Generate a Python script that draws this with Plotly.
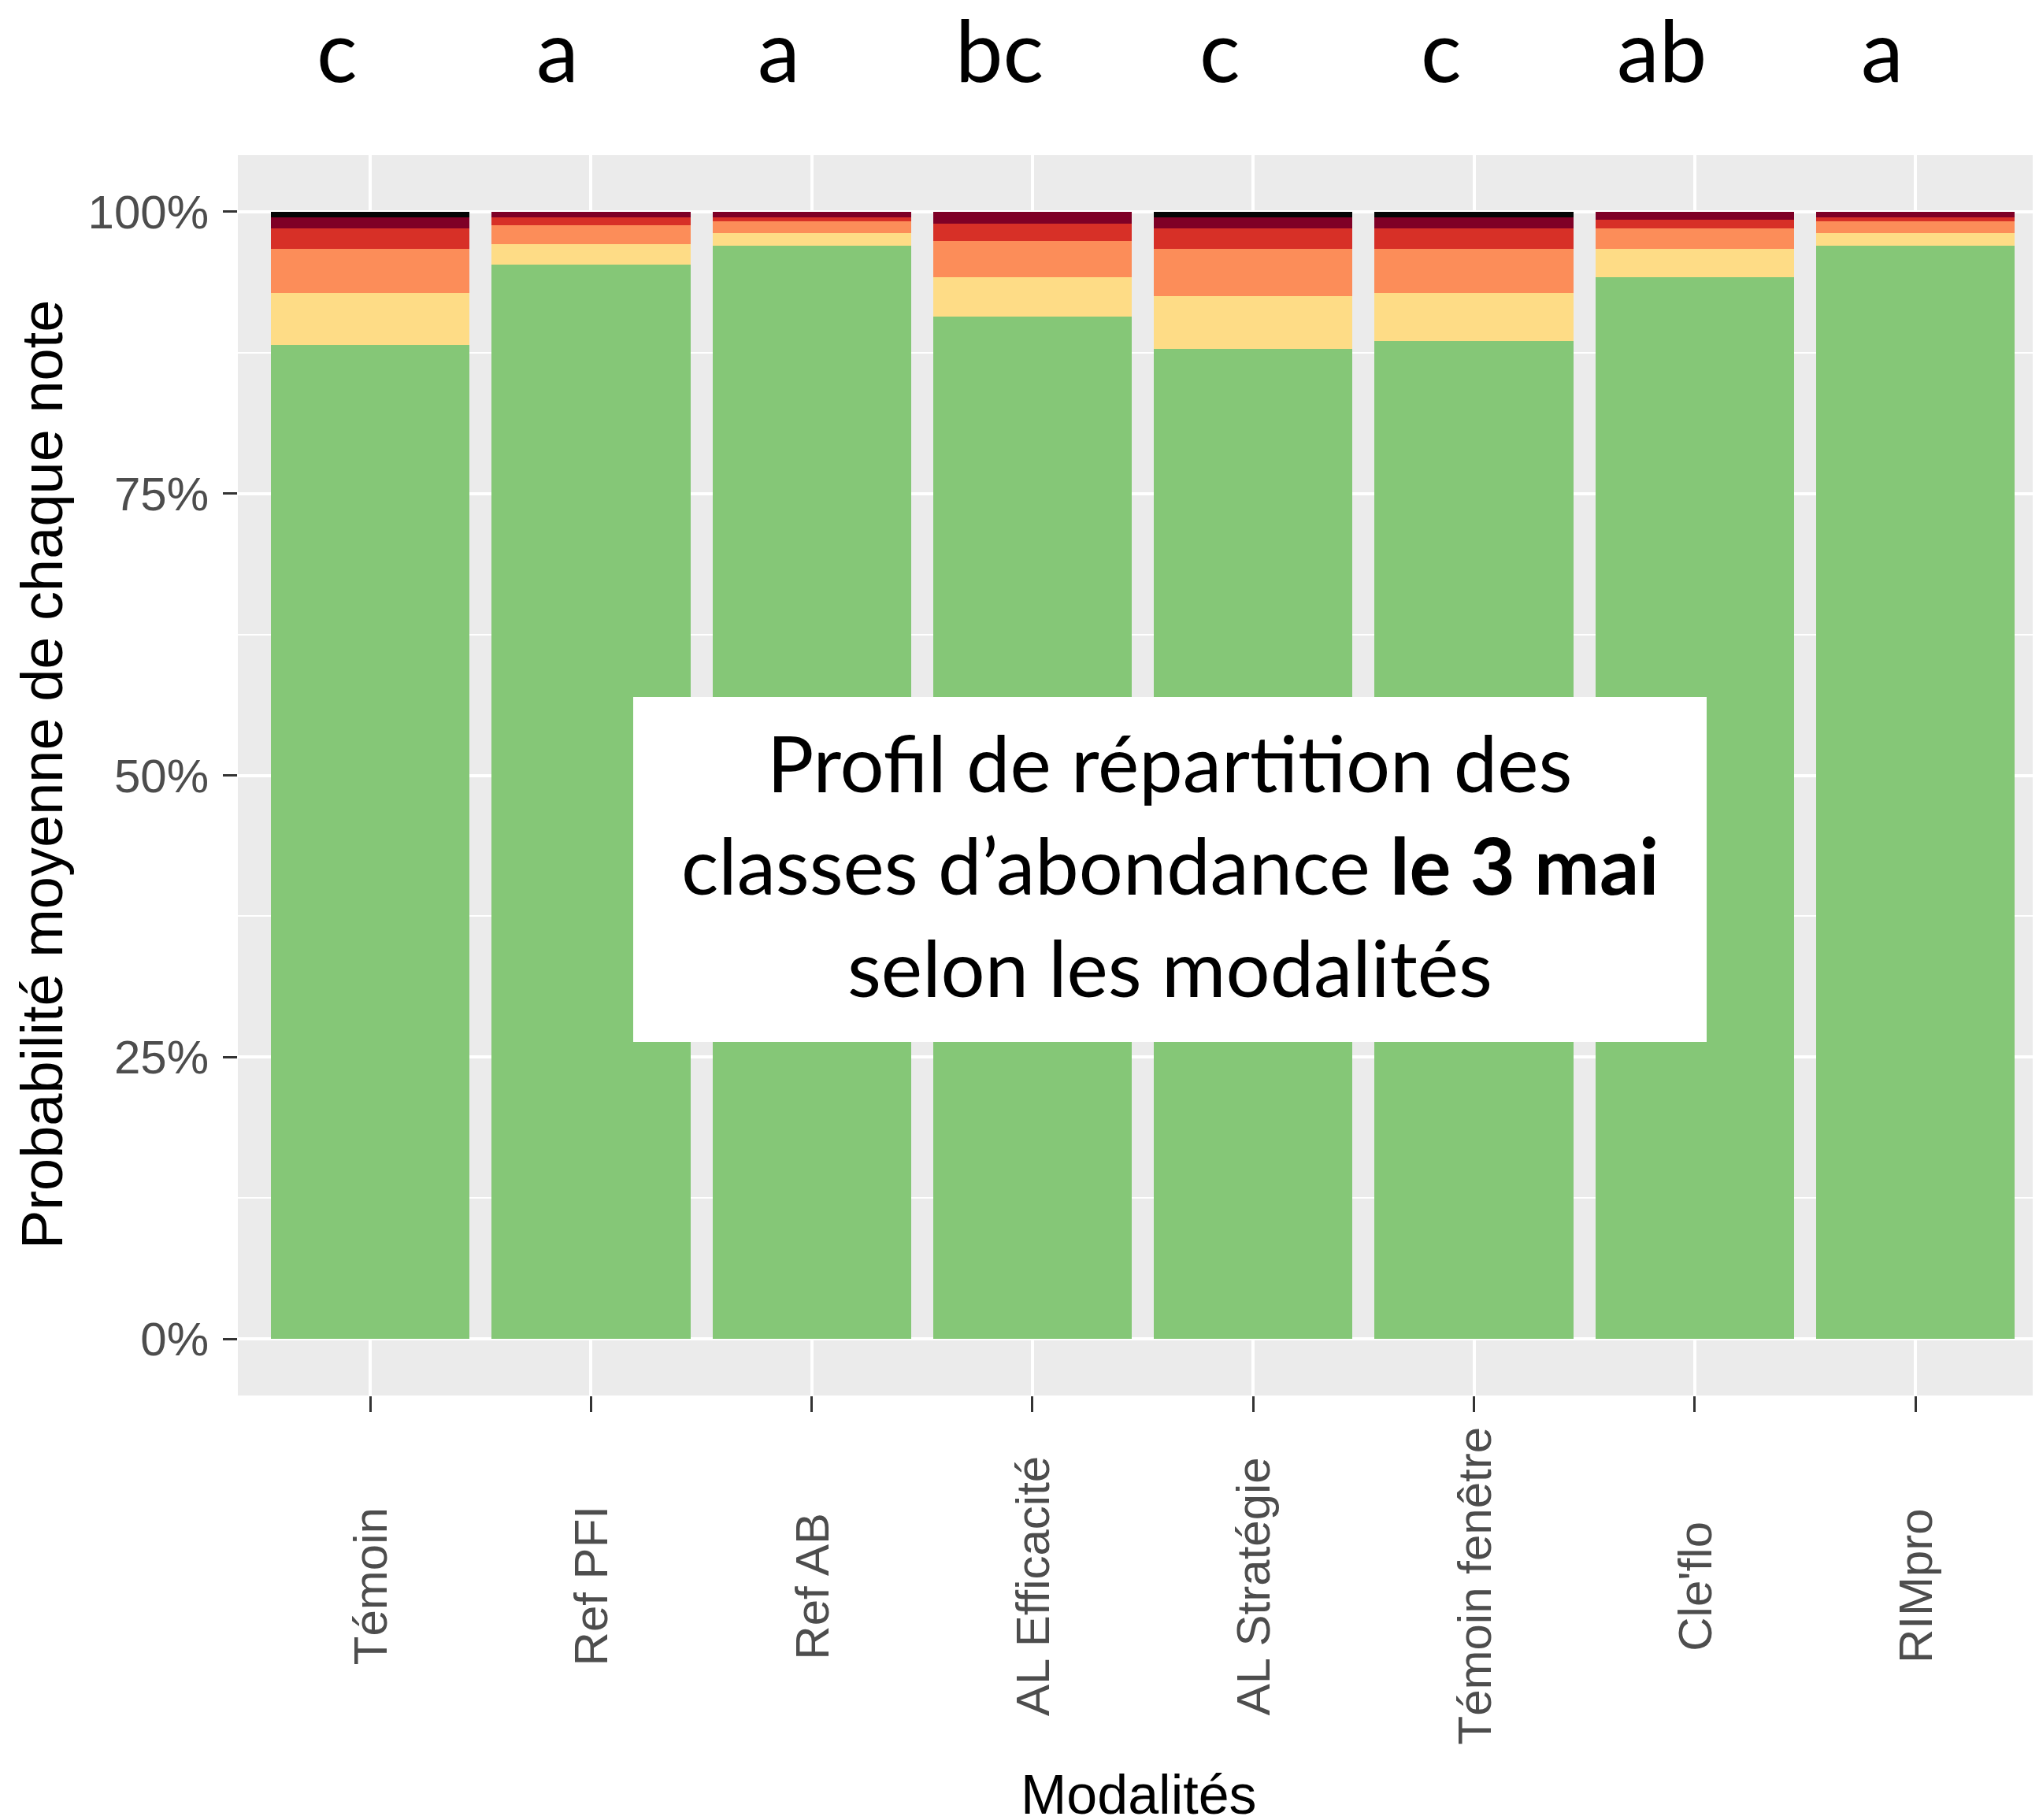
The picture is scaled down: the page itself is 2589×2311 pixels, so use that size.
import plotly.graph_objects as go

modalites = ["Témoin", "Ref PFI", "Ref AB", "AL Efficacité", "AL Stratégie",
             "Témoin fenêtre", "Cle'flo", "RIMpro"]
lettres = ["c", "a", "a", "bc", "c", "c", "ab", "a"]

# probabilité moyenne (%) de chaque note, de la note 0 (vert) à la note 5 (noir)
note_0 = [88.2, 95.3, 97.0, 90.7, 87.8, 88.5, 94.2, 97.0]
note_1 = [4.6, 1.8, 1.1, 3.5, 4.7, 4.3, 2.5, 1.1]
note_2 = [3.9, 1.7, 1.0, 3.2, 4.2, 3.9, 1.8, 1.0]
note_3 = [1.8, 0.7, 0.4, 1.5, 1.8, 1.8, 0.8, 0.4]
note_4 = [1.0, 0.5, 0.5, 1.1, 1.0, 1.0, 0.7, 0.5]
note_5 = [0.5, 0.0, 0.0, 0.0, 0.5, 0.5, 0.0, 0.0]

notes = [note_0, note_1, note_2, note_3, note_4, note_5]
couleurs = ["#85C777", "#FEDC86", "#FC8D59", "#D73027", "#7F0026", "#050505"]

# la page html a une marge de 8 px autour du graphique
OFF = 8
W, H = 2589 - OFF, 2311 - OFF
L, R, T, B = 302 - OFF, 0, 197 - OFF, 539
ph = H - T - B
pw = W - L - R

def py(px):
    # pixel de la fenêtre (depuis le haut) -> coordonnée papier
    return (H - B - (px - OFF)) / ph

def pxx(px):
    return (px - OFF - L) / pw

fig = go.Figure()
for i, (vals, col) in enumerate(zip(notes, couleurs)):
    fig.add_trace(go.Bar(
        x=modalites, y=[v / 100 for v in vals], name=f"Note {i}",
        marker=dict(color=col, line=dict(width=0)),
    ))

axis_font = dict(family="Liberation Sans, Arial", size=60, color="#4D4D4D")

fig.update_layout(
    width=W, height=H,
    margin=dict(l=L, r=R, t=T, b=B),
    barmode="stack", bargap=0.1,
    showlegend=False,
    plot_bgcolor="#EBEBEB", paper_bgcolor="white",
    xaxis=dict(
        range=[-0.6, 7.56], showticklabels=False,
        ticks="outside", ticklen=20, tickwidth=3, tickcolor="#333333",
        showgrid=True, gridcolor="white", gridwidth=4, zeroline=False,
    ),
    yaxis=dict(
        range=[-0.05, 1.05], tickvals=[0, 0.25, 0.5, 0.75, 1], tickformat=".0%",
        ticks="outside", ticklen=18, tickwidth=3, tickcolor="#333333",
        tickfont=axis_font, ticklabelstandoff=6,
        showgrid=True, gridcolor="white", gridwidth=4, zeroline=False,
        minor=dict(tick0=0.125, dtick=0.25, showgrid=True, gridcolor="white", gridwidth=2),
    ),
)

# étiquettes des modalités, centrées
for m in modalites:
    fig.add_annotation(x=m, xref="x", y=py(2014), yref="paper", text=m,
                       textangle=-90, showarrow=False, font=axis_font,
                       xanchor="center", yanchor="middle")

# lettres de significativité
for m, l in zip(modalites, lettres):
    fig.add_annotation(x=m, xref="x", y=py(62), yref="paper", text=l,
                       showarrow=False, xshift=-42,
                       font=dict(family="Lato", size=108, color="black"),
                       xanchor="center", yanchor="middle")

# titres des axes
fig.add_annotation(x=pxx(53), xref="paper", y=py(984), yref="paper",
                   text="Probabilité moyenne de chaque note", textangle=-90,
                   showarrow=False, font=dict(family="Liberation Sans, Arial", size=74, color="black"),
                   xanchor="center", yanchor="middle")
fig.add_annotation(x=0.5, xref="paper", y=py(2279), yref="paper",
                   text="Modalités", showarrow=False,
                   font=dict(family="Liberation Sans, Arial", size=70, color="black"),
                   xanchor="center", yanchor="middle")

# encadré de titre
fig.add_shape(type="rect", xref="paper", yref="paper",
              x0=pxx(804), x1=pxx(2167), y0=py(1323), y1=py(885),
              fillcolor="white", line=dict(width=0), layer="above")
lignes = ["Profil de répartition des",
          "classes d’abondance <b>le 3 mai</b>",
          "selon les modalités"]
for k, txt in enumerate(lignes):
    fig.add_annotation(x=pxx(1485), xref="paper", y=py(968 + 129.5 * k), yref="paper",
                       text=txt, showarrow=False,
                       font=dict(family="Lato", size=99, color="black"),
                       xanchor="center", yanchor="middle")

fig.write_html("out.html")
